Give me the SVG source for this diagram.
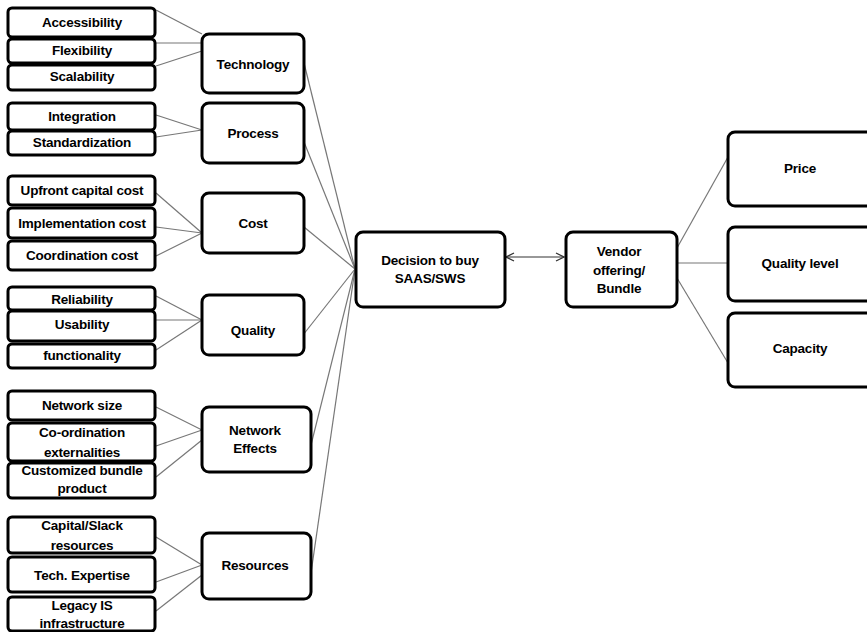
<svg xmlns="http://www.w3.org/2000/svg" width="867" height="632" viewBox="0 0 867 632">
<style>
.b{fill:#fff;stroke:#000;stroke-width:3}
.t{font-family:"Liberation Sans",Arial,sans-serif;font-weight:bold;font-size:13.5px;fill:#000;text-anchor:middle;dominant-baseline:central;letter-spacing:-0.2px}
.c line{stroke:#777;stroke-width:1.2}
</style>
<defs>
<marker id="ah" viewBox="0 0 10 10" refX="9" refY="5" markerWidth="10" markerHeight="10" markerUnits="userSpaceOnUse" orient="auto-start-reverse">
<path d="M1,1 L9,5 L1,9" fill="none" stroke="#333" stroke-width="1.3"/>
</marker>
</defs>
<rect width="867" height="632" fill="#fff"/>
<g class="c" id="connectors">
<line x1="156" y1="10" x2="202" y2="34"/>
<line x1="156" y1="43" x2="202" y2="43"/>
<line x1="156" y1="66" x2="202" y2="51"/>
<line x1="156" y1="115" x2="202" y2="130"/>
<line x1="156" y1="137" x2="202" y2="130"/>
<line x1="156" y1="193" x2="202" y2="233"/>
<line x1="156" y1="227" x2="202" y2="233"/>
<line x1="156" y1="256" x2="202" y2="233"/>
<line x1="156" y1="296" x2="202" y2="320"/>
<line x1="156" y1="320" x2="202" y2="320"/>
<line x1="156" y1="350" x2="202" y2="320"/>
<line x1="156" y1="407" x2="202" y2="430"/>
<line x1="156" y1="446" x2="202" y2="430"/>
<line x1="156" y1="477" x2="202" y2="440"/>
<line x1="156" y1="537" x2="202" y2="565"/>
<line x1="156" y1="582" x2="202" y2="565"/>
<line x1="156" y1="611" x2="202" y2="575"/>
<line x1="304" y1="63" x2="355" y2="269"/>
<line x1="304" y1="142" x2="355" y2="269"/>
<line x1="304" y1="227" x2="355" y2="269"/>
<line x1="303" y1="335" x2="355" y2="269"/>
<line x1="311" y1="445" x2="355" y2="269"/>
<line x1="311" y1="573" x2="355" y2="269"/>
<line x1="677" y1="248" x2="728" y2="157"/>
<line x1="677" y1="263" x2="728" y2="263"/>
<line x1="677" y1="278" x2="728" y2="363"/>
<line x1="506" y1="257" x2="564" y2="257" marker-start="url(#ah)" marker-end="url(#ah)" style="stroke:#333"/>
</g>
<g id="accessibility"><rect class="b" x="8" y="8" width="147" height="29" rx="4"/><text class="t" x="82" y="22">Accessibility</text></g>
<g id="flexibility"><rect class="b" x="8" y="39" width="147" height="24" rx="4"/><text class="t" x="82" y="50">Flexibility</text></g>
<g id="scalability"><rect class="b" x="8" y="65" width="147" height="25" rx="4"/><text class="t" x="82" y="76">Scalability</text></g>
<g id="integration"><rect class="b" x="8" y="103" width="147" height="27" rx="4"/><text class="t" x="82" y="116">Integration</text></g>
<g id="standardization"><rect class="b" x="8" y="131" width="147" height="24" rx="4"/><text class="t" x="82" y="142">Standardization</text></g>
<g id="upfront"><rect class="b" x="8" y="176" width="147" height="29" rx="4"/><text class="t" x="82" y="190">Upfront capital cost</text></g>
<g id="implementation"><rect class="b" x="8" y="208" width="147" height="30" rx="4"/><text class="t" x="82" y="223">Implementation cost</text></g>
<g id="coordination"><rect class="b" x="8" y="241" width="147" height="29" rx="4"/><text class="t" x="82" y="255">Coordination cost</text></g>
<g id="reliability"><rect class="b" x="8" y="287" width="147" height="23" rx="4"/><text class="t" x="82" y="299">Reliability</text></g>
<g id="usability"><rect class="b" x="8" y="311" width="147" height="30" rx="4"/><text class="t" x="82" y="324">Usability</text></g>
<g id="functionality"><rect class="b" x="8" y="344" width="147" height="24" rx="4"/><text class="t" x="82" y="355">functionality</text></g>
<g id="network-size"><rect class="b" x="8" y="391" width="147" height="29" rx="4"/><text class="t" x="82" y="405">Network size</text></g>
<g id="co-ordination"><rect class="b" x="8" y="423" width="147" height="38" rx="4"/><text class="t" x="82" y="432">Co-ordination</text><text class="t" x="82" y="452">externalities</text></g>
<g id="customized"><rect class="b" x="8" y="463" width="147" height="35" rx="4"/><text class="t" x="82" y="470">Customized bundle</text><text class="t" x="82" y="488">product</text></g>
<g id="capital"><rect class="b" x="8" y="517" width="147" height="36" rx="4"/><text class="t" x="82" y="525">Capital/Slack</text><text class="t" x="82" y="545">resources</text></g>
<g id="expertise"><rect class="b" x="8" y="557" width="147" height="35" rx="4"/><text class="t" x="82" y="575">Tech. Expertise</text></g>
<g id="legacy"><rect class="b" x="8" y="597" width="147" height="34" rx="4"/><text class="t" x="82" y="605">Legacy IS</text><text class="t" x="82" y="623">infrastructure</text></g>
<g id="technology"><rect class="b" x="202" y="34" width="102" height="59" rx="7"/><text class="t" x="253" y="64">Technology</text></g>
<g id="process"><rect class="b" x="202" y="103" width="102" height="60" rx="7"/><text class="t" x="253" y="133">Process</text></g>
<g id="cost"><rect class="b" x="202" y="193" width="102" height="60" rx="7"/><text class="t" x="253" y="223">Cost</text></g>
<g id="quality"><rect class="b" x="202" y="295" width="102" height="60" rx="7"/><text class="t" x="253" y="330">Quality</text></g>
<g id="network-effects"><rect class="b" x="202" y="407" width="109" height="65" rx="7"/><text class="t" x="255" y="430">Network</text><text class="t" x="255" y="448">Effects</text></g>
<g id="resources"><rect class="b" x="202" y="533" width="109" height="66" rx="7"/><text class="t" x="255" y="565">Resources</text></g>
<g id="decision"><rect class="b" x="356" y="232" width="149" height="75" rx="7"/><text class="t" x="430" y="260">Decision to buy</text><text class="t" x="430" y="278">SAAS/SWS</text></g>
<g id="vendor"><rect class="b" x="566" y="232" width="111" height="75" rx="7"/><text class="t" x="619" y="251">Vendor</text><text class="t" x="619" y="270">offering/</text><text class="t" x="619" y="288">Bundle</text></g>
<g id="price"><rect class="b" x="728" y="132" width="150" height="74" rx="7"/><text class="t" x="800" y="168">Price</text></g>
<g id="quality-level"><rect class="b" x="728" y="227" width="150" height="74" rx="7"/><text class="t" x="800" y="263">Quality level</text></g>
<g id="capacity"><rect class="b" x="728" y="313" width="150" height="74" rx="7"/><text class="t" x="800" y="348">Capacity</text></g>
</svg>
